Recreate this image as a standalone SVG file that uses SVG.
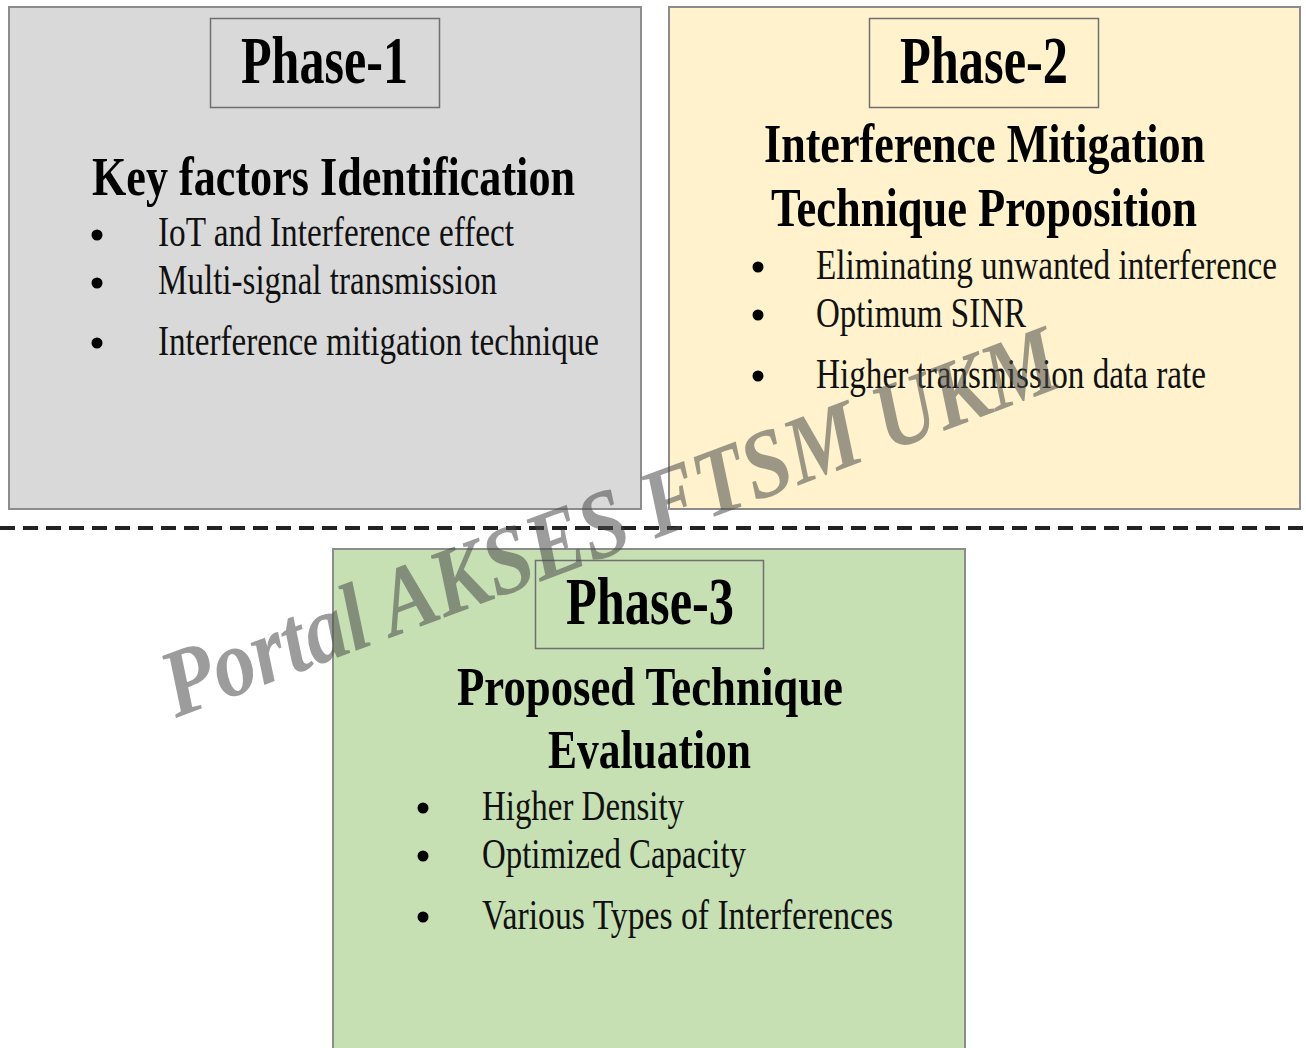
<svg xmlns="http://www.w3.org/2000/svg" width="1306" height="1048" viewBox="0 0 1306 1048">
<style>
.panel{stroke:#8c8c8c;stroke-width:2}
.tag{fill:none;stroke:#6f6f6f;stroke-width:1.5}
.ph{font-family:"Liberation Serif",serif;font-weight:bold;font-size:68px;fill:#000}
.hd{font-family:"Liberation Serif",serif;font-weight:bold;font-size:54px;fill:#000}
.it{font-family:"Liberation Serif",serif;font-size:42px;fill:#111}
.bul{fill:#000}
.wm{font-family:"Liberation Serif",serif;font-weight:bold;font-style:italic;font-size:96px;fill:#4a4a4a;fill-opacity:0.55}
</style>
<rect width="1306" height="1048" fill="#ffffff"/>
<g id="phase1">
<rect class="panel" x="9" y="7" width="632" height="502" fill="#d9d9d9"/>
<rect class="tag" x="210.5" y="18.5" width="229" height="89"/>
<text class="ph" x="241" y="83" textLength="167" lengthAdjust="spacingAndGlyphs">Phase-1</text>
<text class="hd" x="92" y="195" textLength="483" lengthAdjust="spacingAndGlyphs">Key factors Identification</text>
<circle class="bul" cx="97" cy="235" r="5.5"/>
<circle class="bul" cx="97" cy="283" r="5.5"/>
<circle class="bul" cx="97" cy="343" r="5.5"/>
<text class="it" x="158" y="246" textLength="356" lengthAdjust="spacingAndGlyphs">IoT and Interference effect</text>
<text class="it" x="158" y="294" textLength="339" lengthAdjust="spacingAndGlyphs">Multi-signal transmission</text>
<text class="it" x="158" y="355" textLength="441" lengthAdjust="spacingAndGlyphs">Interference mitigation technique</text>
</g>
<g id="phase2">
<rect class="panel" x="669" y="7" width="631" height="502" fill="#fff2cc"/>
<rect class="tag" x="869.5" y="18.5" width="229" height="89"/>
<text class="ph" x="900" y="83" textLength="168" lengthAdjust="spacingAndGlyphs">Phase-2</text>
<text class="hd" x="764" y="162" textLength="441" lengthAdjust="spacingAndGlyphs">Interference Mitigation</text>
<text class="hd" x="771" y="226" textLength="426" lengthAdjust="spacingAndGlyphs">Technique Proposition</text>
<circle class="bul" cx="758" cy="267" r="5.5"/>
<circle class="bul" cx="758" cy="315" r="5.5"/>
<circle class="bul" cx="758" cy="376" r="5.5"/>
<text class="it" x="816" y="279" textLength="461" lengthAdjust="spacingAndGlyphs">Eliminating unwanted interference</text>
<text class="it" x="816" y="327" textLength="210" lengthAdjust="spacingAndGlyphs">Optimum SINR</text>
<text class="it" x="816" y="388" textLength="390" lengthAdjust="spacingAndGlyphs">Higher transmission data rate</text>
</g>
<g id="connectors">
<line x1="0" y1="528" x2="1306" y2="528" stroke="#222" stroke-width="4" stroke-dasharray="15 8"/>
</g>
<g id="phase3">
<rect class="panel" x="333" y="549" width="632" height="510" fill="#c6e0b4"/>
<rect class="tag" x="535.5" y="560.5" width="228" height="88"/>
<text class="ph" x="566" y="624" textLength="168" lengthAdjust="spacingAndGlyphs">Phase-3</text>
<text class="hd" x="457" y="705" textLength="386" lengthAdjust="spacingAndGlyphs">Proposed Technique</text>
<text class="hd" x="548" y="768" textLength="203" lengthAdjust="spacingAndGlyphs">Evaluation</text>
<circle class="bul" cx="423" cy="808" r="5.5"/>
<circle class="bul" cx="423" cy="856" r="5.5"/>
<circle class="bul" cx="423" cy="917" r="5.5"/>
<text class="it" x="482" y="820" textLength="202" lengthAdjust="spacingAndGlyphs">Higher Density</text>
<text class="it" x="482" y="868" textLength="264" lengthAdjust="spacingAndGlyphs">Optimized Capacity</text>
<text class="it" x="482" y="929" textLength="411" lengthAdjust="spacingAndGlyphs">Various Types of Interferences</text>
</g>
<g id="watermark">
<text class="wm" x="0" y="0" transform="translate(176 718) rotate(-20.5)" textLength="950" lengthAdjust="spacingAndGlyphs">Portal AKSES FTSM UKM</text>
</g>
</svg>
